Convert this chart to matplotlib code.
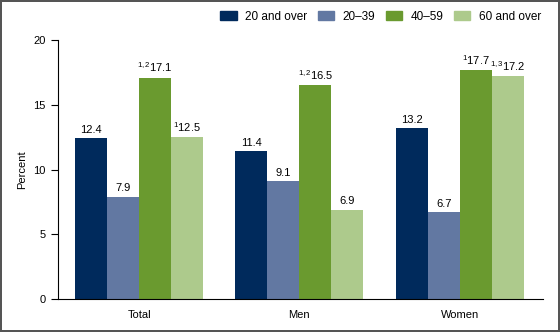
import numpy as np
import matplotlib.pyplot as plt
from matplotlib.patches import Patch

plt.rcParams['font.family'] = ['Liberation Sans', 'DejaVu Sans']
plt.rcParams['mathtext.fontset'] = 'custom'
plt.rcParams['mathtext.rm'] = 'Liberation Sans'
plt.rcParams['mathtext.it'] = 'Liberation Sans'

# Data
groups = ['Total', 'Men', 'Women']
series = ['20 and over', '20\u201339', '40\u201359', '60 and over']
values = [
    [12.4, 11.4, 13.2],
    [7.9, 9.1, 6.7],
    [17.1, 16.5, 17.7],
    [12.5, 6.9, 17.2],
]
notes = [
    ['', '', ''],
    ['', '', ''],
    ['1,2', '1,2', '1'],
    ['1', '', '1,3'],
]
colors = ['#002a5c', '#6278a2', '#6a9a2f', '#adca8c']

fig = plt.figure(figsize=(5.6, 3.32), dpi=100)
fig.patch.set_edgecolor('#555555')
fig.patch.set_linewidth(1.5)
ax = fig.add_axes([0.1036, 0.0994, 0.866, 0.78])

x = np.arange(len(groups))
w = 0.2
for i, s in enumerate(series):
    pos = x + (i - 1.5) * w
    ax.bar(pos, values[i], width=w, color=colors[i], label=s)
    for p, v, n in zip(pos, values[i], notes[i]):
        lab = f'{v:.1f}'
        if n:
            lab = r'$^{' + n + '}$' + lab
        ax.text(p, v + 0.25, lab, ha='center', va='bottom', fontsize=8)

ax.set_xlim(-0.506, 2.52)
ax.set_ylim(0, 20)
ax.set_yticks([0, 5, 10, 15, 20])
ax.set_xticks(x)
ax.set_xticklabels(groups)
ax.tick_params(axis='x', length=0, pad=8, labelsize=8)
ax.tick_params(axis='y', direction='out', length=5, labelsize=8, pad=4)
ax.set_ylabel('Percent', fontsize=8, labelpad=4)
ax.spines['top'].set_visible(False)
ax.spines['right'].set_visible(False)

handles = [Patch(color=c) for c in colors]
fig.legend(handles, series, ncol=4, frameon=False, loc='center right',
           bbox_to_anchor=(0.985, 0.95), fontsize=8.5, handlelength=1.4,
           handleheight=0.8, columnspacing=0.9, handletextpad=0.7)

fig.savefig('out.png', dpi=100)
